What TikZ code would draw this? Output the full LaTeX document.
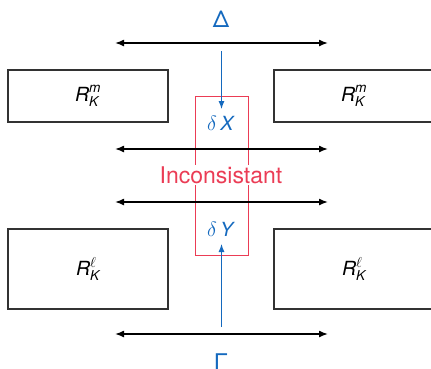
\documentclass[tikz,border=0pt]{standalone}
\usepackage{amsmath}
\usepackage{fontspec}
\setmainfont{TeX Gyre Heros}
\usetikzlibrary{arrows.meta}
\definecolor{myblue}{RGB}{20,105,190}
\definecolor{myred}{RGB}{235,60,85}
\definecolor{boxgray}{RGB}{50,50,50}
\tikzset{
  rbox/.style={draw=boxgray,line width=1.2pt,minimum width=160pt,inner sep=0pt,font=\fontsize{19.5}{22}\selectfont},
  dbl/.style={{Latex[length=9pt,width=7pt]}-{Latex[length=9pt,width=7pt]},line width=1.5pt},
  bluearr/.style={-{Latex[length=8pt,width=6pt]},draw=myblue,line width=1pt},
  lbl/.style={text=myblue,font=\fontsize{23}{26}\selectfont,inner sep=0pt},
  dlbl/.style={text=myblue,font=\fontsize{19.5}{22}\selectfont,inner sep=0pt}
}
\newcommand{\si}[1]{\text{\itshape #1}}
\begin{document}
\begin{tikzpicture}[x=1pt,y=-1pt]
\useasboundingbox (0,0) rectangle (431,368);
% boxes
\node[rbox,minimum height=52pt] (tl) at (88,96) {$\si{R}^{\si{m}}_{\si{K}}$};
\node[rbox,minimum height=52pt] (tr) at (354,96) {$\si{R}^{\si{m}}_{\si{K}}$};
\node[rbox,minimum height=80pt] (bl) at (88,269) {$\si{R}^{\ell}_{\si{K}}$};
\node[rbox,minimum height=80pt] (br) at (354,269) {$\si{R}^{\ell}_{\si{K}}$};
% red box
\node[draw=myred,line width=1pt,minimum width=53pt,minimum height=159pt,inner sep=0pt] (red) at (221.5,175.5) {};
% labels
\node[lbl] (delta) at (221,19) {Δ};
\node[lbl] (gamma) at (221,362) {Γ};
\node[dlbl] (dx) at (221,123) {$\delta$\,\textit{X}};
\node[dlbl] (dy) at (221,229) {$\delta$\,\textit{Y}};
\node[text=myred,font=\fontsize{23}{26}\selectfont,inner sep=1pt,fill=white] (inc) at (221,175) {Inconsistant};
% horizontal arrows
\coordinate (a1l) at (115,43); \coordinate (a1r) at (328,43);
\coordinate (a2l) at (115,149); \coordinate (a2r) at (328,149);
\coordinate (a3l) at (115,202); \coordinate (a3r) at (328,202);
\coordinate (a4l) at (115,334); \coordinate (a4r) at (328,334);
\draw[dbl] (a1l) -- (a1r);
\draw[dbl] (a2l) -- (a2r);
\draw[dbl] (a3l) -- (a3r);
\draw[dbl] (a4l) -- (a4r);
% vertical arrows
\coordinate (vt) at (221.5,51);
\coordinate (vb) at (221.5,327);
\draw[bluearr] (vt) -- (221.5,109);
\draw[bluearr] (vb) -- (221.5,244);
\end{tikzpicture}
\end{document}
